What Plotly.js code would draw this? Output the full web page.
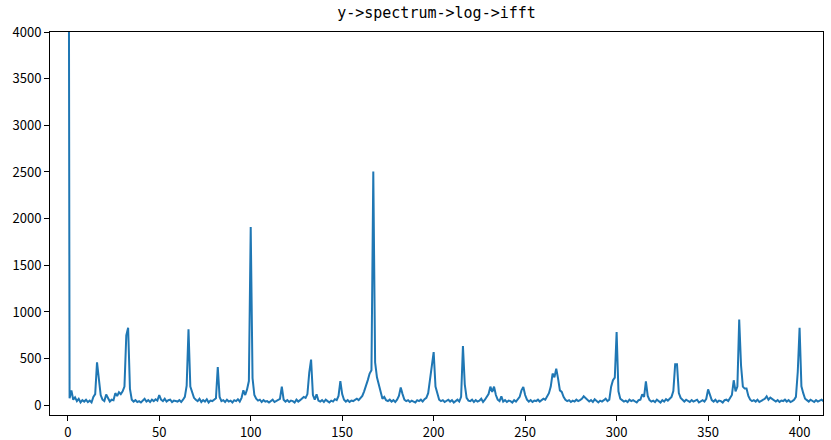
<!DOCTYPE html>
<html>
<head>
<meta charset="utf-8">
<script src="https://cdn.plot.ly/plotly-3.0.1.min.js"></script>
<style>html,body{margin:0;padding:0;background:#fff}#chart{width:831px;height:440px}</style>
</head>
<body>
<div id="chart"></div>
<script>
// Cepstrum magnitude values, one per sample index (0..413)
const values = [
  12000, 75, 160, 60, 85, 45, 70, 30, 55, 40,
  60, 35, 50, 30, 90, 120, 460, 310, 110, 60,
  45, 115, 70, 40, 60, 55, 130, 100, 140, 120,
  150, 200, 750, 830, 175, 60, 40, 55, 35, 45,
  30, 50, 70, 40, 55, 35, 60, 45, 65, 50,
  110, 60, 45, 70, 40, 55, 60, 35, 50, 45,
  40, 55, 35, 60, 90, 210, 815, 200, 140, 80,
  60, 45, 70, 35, 55, 40, 65, 30, 50, 45,
  60, 75, 410, 90, 45, 55, 35, 60, 40, 50,
  30, 55, 45, 65, 40, 80, 160, 110, 170, 260,
  1910, 290, 110, 70, 50, 60, 35, 55, 40, 45,
  30, 50, 60, 35, 45, 55, 70, 200, 60, 40,
  55, 35, 50, 45, 30, 60, 40, 55, 70, 90,
  80, 120, 350, 490, 110, 60, 118, 50, 40, 55,
  35, 60, 45, 30, 50, 40, 65, 55, 100, 260,
  120, 60, 40, 55, 35, 50, 45, 60, 70, 55,
  80, 100, 150, 200, 270, 340, 375, 2505, 460, 300,
  220, 120, 70, 90, 55, 45, 60, 40, 55, 35,
  60, 100, 190, 120, 60, 45, 55, 35, 50, 40,
  30, 55, 45, 60, 40, 65, 80, 130, 270, 410,
  570, 200, 120, 60, 45, 55, 35, 50, 60, 40,
  55, 30, 45, 60, 40, 90, 636, 225, 80, 50,
  45, 60, 35, 55, 40, 50, 70, 35, 60, 90,
  120, 200, 143, 200, 110, 60, 45, 96, 40, 55,
  35, 50, 45, 30, 55, 40, 60, 90, 160, 196,
  110, 60, 40, 55, 35, 50, 45, 60, 40, 55,
  70, 60, 90, 130, 200, 340, 300, 393, 286, 160,
  143, 90, 60, 45, 55, 35, 50, 40, 60, 45,
  55, 70, 96, 75, 50, 40, 55, 35, 64, 45,
  30, 50, 40, 55, 71, 45, 60, 200, 268, 296,
  786, 150, 70, 55, 40, 50, 35, 60, 45, 55,
  40, 30, 55, 60, 118, 90, 257, 100, 55, 40,
  50, 35, 60, 45, 30, 55, 40, 65, 50, 70,
  90, 153, 439, 439, 132, 80, 55, 40, 60, 45,
  35, 55, 40, 50, 60, 30, 45, 55, 40, 70,
  171, 100, 55, 40, 60, 35, 50, 45, 30, 55,
  60, 45, 80, 110, 268, 150, 200, 918, 428, 200,
  179, 180, 100, 60, 45, 55, 40, 60, 35, 50,
  55, 70, 96, 60, 82, 65, 50, 40, 55, 35,
  50, 45, 60, 40, 55, 35, 45, 60, 90, 357,
  830, 203, 130, 70, 55, 40, 60, 45, 35, 55,
  40, 50, 60, 45
];
const sampleIndex = values.map((_, i) => i);
const xTicks = [0, 50, 100, 150, 200, 250, 300, 350, 400];
const yTicks = [0, 500, 1000, 1500, 2000, 2500, 3000, 3500, 4000];
const titleText = 'y->spectrum->log->ifft';

const tickFont = {family: '"Noto Sans CJK SC", "DejaVu Sans", sans-serif', size: 13, color: '#000'};
const axisCommon = {
  showgrid: false, zeroline: false, showline: true, linecolor: '#000', linewidth: 1,
  mirror: true, ticks: 'outside', ticklen: 5, tickwidth: 1, tickcolor: '#000',
  tickfont: tickFont
};

Plotly.newPlot('chart', [{
  x: sampleIndex,
  y: values,
  type: 'scatter',
  mode: 'lines',
  line: {color: '#1f77b4', width: 2},
  hoverinfo: 'skip'
}], {
  width: 831, height: 440,
  margin: {l: 50, r: 8, t: 32, b: 25},
  paper_bgcolor: '#fff', plot_bgcolor: '#fff',
  showlegend: false,
  title: {text: titleText, x: 0.5, xref: 'paper', xanchor: 'center', y: 1, yref: 'container', yanchor: 'top', pad: {t: 7},
          font: {family: '"DejaVu Sans Mono", monospace', size: 15, color: '#000'}},
  xaxis: Object.assign({}, axisCommon, {range: [-9.7, 412.8], tickvals: xTicks, ticktext: xTicks.map(String)}),
  yaxis: Object.assign({}, axisCommon, {range: [-104, 4000], tickvals: yTicks, ticktext: yTicks.map(String)})
}, {staticPlot: true, displayModeBar: false});
</script>
</body>
</html>
